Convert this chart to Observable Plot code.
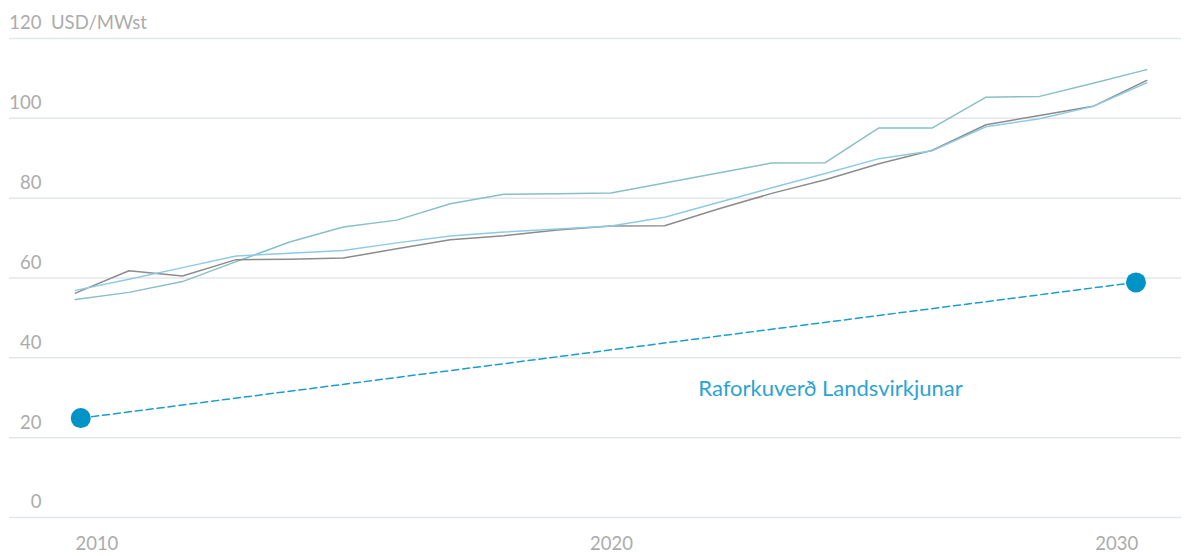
<!DOCTYPE html>
<html>
<head>
<meta charset="utf-8">
<script src="https://cdn.jsdelivr.net/npm/d3@7"></script>
<script src="https://cdn.jsdelivr.net/npm/@observablehq/plot@0.6"></script>
<style>
  html, body { margin: 0; padding: 0; background: #fff; }
  #chart svg { display: block; }
</style>
</head>
<body>
<div id="chart"></div>
<script>
// ---- Data ----
const years = [2010,2011,2012,2013,2014,2015,2016,2017,2018,2019,2020,2021,2022,2023,2024,2025,2026,2027,2028,2029,2030];
const seriesTeal  = [54.6,56.4,59.1,64.1,69.0,72.8,74.5,78.6,81.0,81.1,81.3,83.8,86.3,88.8,88.9,97.6,97.6,105.3,105.5,108.8,112.2];
const seriesBlue  = [56.9,59.7,62.6,65.5,66.2,66.9,68.8,70.5,71.5,72.3,73.0,75.2,78.9,82.6,86.2,89.9,91.9,97.9,99.9,103.0,108.9];
const seriesGray  = [56.2,61.8,60.5,64.6,64.7,65.0,67.3,69.6,70.6,72.0,73.0,73.1,77.3,81.2,84.6,88.6,92.0,98.4,100.7,103.0,109.5];
const lvYears = [2010.1, 2029.8];
const lvValues = [24.9, 58.9];
const lvLabel = "Raforkuverð Landsvirkjunar";
const lvLabelPos = {year: 2021.63, value: 32.1};
const yTicks = [0, 20, 40, 60, 80, 100, 120];
const yUnit = "USD/MWst";
const xTicks = [2010, 2020, 2030];

// ---- Tables ----
const rows = (vals, name) => years.map((y, i) => ({year: y, value: vals[i], series: name}));
const gray = rows(seriesGray, "gray");
const teal = rows(seriesTeal, "teal");
const blue = rows(seriesBlue, "blue");
const lv = lvYears.map((y, i) => ({year: y, value: lvValues[i]}));

const labelColor = "#ababab";
const font = "Lato, 'Open Sans', sans-serif";
const fw = 400;

const chart = Plot.plot({
  width: 1184,
  height: 556,
  marginTop: 38,
  marginBottom: 39,
  marginLeft: 9,
  marginRight: 3,
  x: {domain: [2008.77, 2030.65], axis: null},
  y: {domain: [0, 120], axis: null},
  style: {fontFamily: font, background: "#fff"},
  marks: [
    Plot.ruleY(yTicks, {stroke: "#e3e6ea", strokeWidth: 1.5}),
    Plot.text(yTicks, {y: d => d, text: d => String(d), frameAnchor: "left", dx: 32, dy: -15, textAnchor: "end", fontSize: 18.5, fontWeight: fw, fill: labelColor}),
    Plot.text([120], {y: d => d, text: () => yUnit, frameAnchor: "left", dx: 41.5, dy: -15, textAnchor: "start", fontSize: 18.5, fontWeight: fw, fill: labelColor}),
    Plot.text([xTicks[0]], {x: d => d, text: d => String(d), frameAnchor: "bottom", lineAnchor: "middle", dy: 27, dx: 21.5, fontSize: 18.5, fontWeight: fw, fill: labelColor}),
    Plot.text([xTicks[1]], {x: d => d, text: d => String(d), frameAnchor: "bottom", lineAnchor: "middle", dy: 27, dx: 0.5, fontSize: 18.5, fontWeight: fw, fill: labelColor}),
    Plot.text([xTicks[2]], {x: d => d, text: d => String(d), frameAnchor: "bottom", lineAnchor: "middle", dy: 27, dx: -30, fontSize: 18.5, fontWeight: fw, fill: labelColor}),
    Plot.line(teal, {x: "year", y: "value", stroke: "#88bfc9", strokeWidth: 1.5}),
    Plot.line(gray, {x: "year", y: "value", stroke: "#8c8c8c", strokeWidth: 1.5}),
    Plot.line(blue, {x: "year", y: "value", stroke: "#8ecae6", strokeWidth: 1.5}),
    Plot.line(lv, {x: "year", y: "value", stroke: "#1a9dcc", strokeWidth: 1.5, strokeDasharray: "7,4"}),
    Plot.dot(lv, {x: "year", y: "value", r: 10, fill: "#0093c6", stroke: "none"}),
    Plot.text([lvLabelPos], {x: "year", y: "value", text: () => lvLabel, textAnchor: "start", fontSize: 22, fontWeight: fw, fill: "#2ca3d2"})
  ]
});
document.getElementById("chart").appendChild(chart);
</script>
</body>
</html>
